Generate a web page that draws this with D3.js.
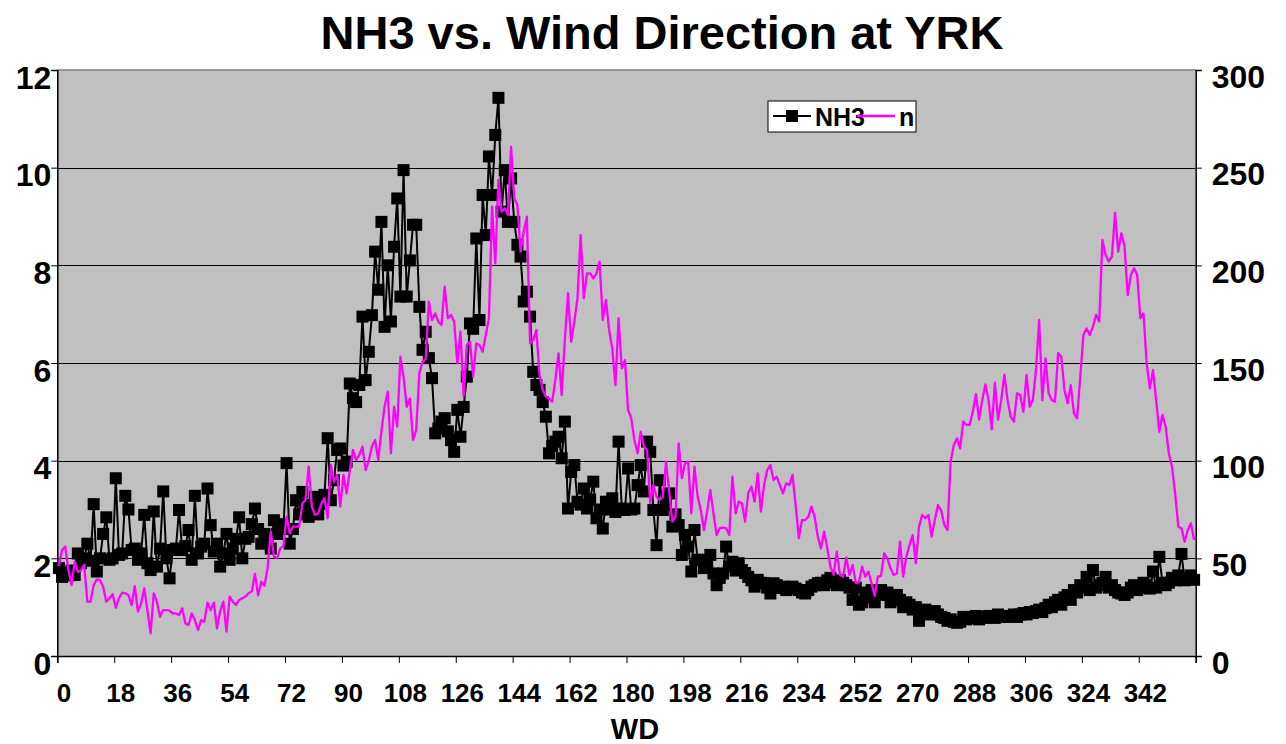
<!DOCTYPE html>
<html>
<head>
<meta charset="utf-8">
<script src="https://cdn.jsdelivr.net/npm/d3@7"></script>
<style>
    body { margin: 0; background: #fff; }
    text { font-family: "Liberation Sans", Arial, sans-serif; font-weight: bold; fill: #000; }
</style>
</head>
<body>
<svg id="chart"></svg>
<script>
// wind direction categories, one per degree
const windDirs = d3.range(360);
const xTickLabels = [0, 18, 36, 54, 72, 90, 108, 126, 144, 162, 180, 198, 216, 234, 252, 270, 288, 306, 324, 342];
const leftTicks = [0, 2, 4, 6, 8, 10, 12];
const rightTicks = [0, 50, 100, 150, 200, 250, 300];

const nh3 = [
    1.8, 1.62, 1.7, 1.65, 1.75, 1.66, 2.1, 1.9, 2.0, 2.3,
    1.95, 3.11, 1.73, 2.0, 2.5, 2.84, 1.97, 2.0, 3.64, 2.07,
    2.1, 3.28, 3.0, 2.17, 2.2, 1.97, 2.1, 2.89, 1.9, 1.76,
    2.96, 1.83, 2.2, 3.37, 2.0, 1.59, 2.17, 2.2, 2.99, 2.17,
    2.25, 2.58, 1.97, 3.28, 2.1, 2.24, 2.3, 3.43, 2.68, 2.14,
    2.3, 1.83, 2.1, 2.5, 1.97, 2.2, 2.4, 2.84, 2.0, 2.4,
    2.44, 2.7, 3.02, 2.6, 2.3, 2.5, 2.45, 2.2, 2.78, 2.5,
    2.7, 2.6, 3.95, 2.3, 2.6, 3.19, 2.9, 3.36, 3.1, 2.85,
    3.0, 3.26, 2.9, 3.12, 3.3, 4.46, 3.19, 3.6, 4.22, 4.25,
    3.9, 3.98, 5.58, 5.28, 5.2, 5.55, 6.95, 5.65, 6.23, 6.98,
    8.28, 7.5, 8.89, 6.74, 8.0, 6.85, 8.38, 9.37, 7.36, 9.95,
    7.36, 8.1, 8.83, 8.83, 7.15, 6.27, 6.64, 6.1, 5.69, 4.56,
    4.66, 4.8, 4.87, 4.6, 4.42, 4.18, 5.04, 4.49, 5.1, 5.72,
    6.81, 6.7, 8.55, 6.88, 9.44, 8.62, 10.23, 9.44, 10.67, 11.43,
    9.1, 9.95, 8.89, 9.78, 8.89, 8.42, 8.18, 7.26, 7.46, 6.95,
    5.82, 5.55, 5.45, 5.2, 4.9, 4.15, 4.3, 4.39, 4.49, 4.05,
    4.8, 3.02, 3.77, 3.91, 3.16, 3.1, 3.43, 3.02, 3.2, 3.57,
    2.82, 3.0, 2.61, 3.16, 3.0, 3.23, 2.95, 4.39, 3.02, 2.99,
    3.84, 3.0, 3.02, 3.5, 3.91, 3.37, 4.39, 4.18, 2.99, 2.27,
    3.6, 2.99, 3.1, 3.33, 2.65, 2.9, 2.68, 2.07, 2.48, 2.24,
    1.73, 2.58, 1.97, 1.97, 1.8, 1.83, 2.07, 1.69, 1.45, 1.6,
    1.69, 2.24, 1.83, 1.93, 1.75, 1.9, 1.76, 1.7, 1.62, 1.55,
    1.42, 1.56, 1.5, 1.49, 1.4, 1.28, 1.49, 1.45, 1.39, 1.42,
    1.35, 1.4, 1.42, 1.38, 1.35, 1.3, 1.28, 1.35, 1.42, 1.45,
    1.49, 1.5, 1.45, 1.55, 1.6, 1.5, 1.45, 1.55, 1.5, 1.45,
    1.4, 1.15, 1.4, 1.05, 1.1, 1.3, 1.2, 1.35, 1.1, 1.3,
    1.35, 1.25, 1.3, 1.1, 1.2, 1.25, 1.15, 1.0, 1.1, 1.05,
    0.95, 1.0, 0.72, 0.9, 0.95, 0.85, 0.9, 0.92, 0.85, 0.8,
    0.78, 0.72, 0.75, 0.7, 0.68, 0.7, 0.8, 0.75, 0.8, 0.78,
    0.82, 0.75, 0.8, 0.78, 0.82, 0.8, 0.78, 0.85, 0.8, 0.82,
    0.8, 0.82, 0.85, 0.8, 0.85, 0.88, 0.85, 0.9, 0.88, 0.92,
    0.95, 0.9, 0.98, 1.05, 1.0, 1.1, 1.15, 1.05, 1.2, 1.25,
    1.15, 1.35, 1.3, 1.45, 1.4, 1.62, 1.35, 1.76, 1.4, 1.45,
    1.5, 1.62, 1.4, 1.45, 1.35, 1.3, 1.28, 1.25, 1.3, 1.4,
    1.45, 1.35, 1.4, 1.5, 1.45, 1.38, 1.73, 1.4, 2.03, 1.5,
    1.45, 1.5, 1.6, 1.55, 1.65, 2.09, 1.55, 1.6, 1.65, 1.56
];

const nCount = [
    46, 54.3, 56, 44, 36.3, 48.3, 43, 44, 46.6, 27.8,
    27.8, 36.3, 39.2, 38.9, 35.5, 27.8, 29.5, 31.7, 24.7, 29.5,
    32.4, 32.1, 31.2, 26.1, 35.8, 22.7, 27, 34.6, 23.5, 11.6,
    32.1, 27.8, 20.1, 23.5, 23.5, 23.2, 21.8, 21.8, 21, 24.4,
    16.7, 15.9, 21.8, 18.4, 13.3, 18.4, 17.6, 27.3, 23.5, 27.3,
    14.2, 22.7, 27.8, 12.5, 30.4, 27.8, 26.1, 28.7, 29.5, 30.4,
    32.1, 33, 42, 31, 38, 36, 44.9, 63.7, 50.9, 50,
    55.1, 56, 71.3, 62.8, 66.2, 66.2, 66.2, 78, 80, 97,
    76.5, 72.2, 73, 78, 80.7, 70.5, 97.8, 89.3, 92.7, 76.5,
    92.7, 83.3, 95, 105.5, 100.3, 103, 107.2, 95.2, 100, 107.2,
    110.6, 100.3, 115, 127.6, 135.3, 103.8, 127.6, 117.4, 153.2, 143,
    127.6, 131.9, 110.6, 115.7, 144.7, 150.7, 152, 181.4, 172, 175.4,
    171.2, 169.5, 189.1, 172.9, 174.6, 171.2, 149.8, 166, 132.8, 159.2,
    160.9, 143, 160, 159.2, 155.8, 164.3, 172.9, 230, 201, 243.7,
    227.5, 229.2, 225.8, 260.8, 234.3, 230.9, 207, 217.2, 224.9, 160,
    161.8, 166.9, 143.9, 136.2, 132.8, 131.9, 130.2, 141.3, 154.9, 133.6,
    161.8, 185.7, 160.9, 171.2, 183.1, 215.5, 183.1, 195.9, 195.9, 193.3,
    195.9, 201.9, 172, 182.3, 166.9, 157.5, 138.7, 172.9, 147.3, 151.5,
    126, 121.7, 110.6, 103.8, 114.8, 107.2, 105.5, 78.2, 87.5, 81.6,
    79.9, 81.6, 99.5, 84.1, 68.8, 71.3, 108.9, 91, 98.6, 99.5,
    73, 96.9, 81.6, 74.7, 64.5, 73.9, 85, 73, 61.9, 65.4,
    65.7, 65.4, 61.9, 91.8, 73, 79, 78.2, 68.8, 83.3, 86.7,
    79, 93.5, 73.9, 87.5, 95.2, 97.8, 90.1, 91.8, 87.5, 83.3,
    88.4, 87.5, 92.7, 77.3, 60.2, 69.6, 69.6, 71.3, 76.5, 71.3,
    61.1, 55.1, 63.7, 55.1, 45.7, 41.5, 53.4, 41.5, 40.6, 50.5,
    41.5, 46.6, 37.5, 37.7, 45.7, 40.6, 43.2, 37.2, 30.7, 40.6,
    41, 52.6, 50, 44.9, 41.5, 42.3, 58.5, 40.6, 50.9, 56.8,
    61.9, 47.4, 66.2, 72.2, 70.5, 72.2, 61.1, 69.6, 77.3, 74.7,
    67.1, 64.5, 99.5, 108, 111.4, 106.3, 120, 118.3, 118.3, 125,
    134, 121, 131, 139, 131, 116, 140, 121, 131, 144,
    131, 122.5, 120, 134.5, 133.6, 125.1, 143.9, 127.6, 131, 146.4,
    172, 131, 152.4, 134.5, 131, 130.2, 155, 153.2, 136.2, 129.4,
    138.7, 124.2, 121.7, 143, 164.3, 167.7, 164.3, 168.6, 174.6, 171.2,
    213, 205.3, 201.9, 204.4, 226.9, 207, 216.4, 209.6, 184.8, 195,
    198.5, 195, 172.9, 175.4, 149.8, 137, 146.4, 131, 114.8, 123.4,
    117.4, 103.8, 96.9, 83.3, 66.2, 65.4, 58.5, 64.5, 67.9, 59.4
];

const width = 1286, height = 744;
const plot = { left: 57.3, right: 1195.7, top: 70, bottom: 656 };

const svg = d3.select("#chart").attr("width", width).attr("height", height);

const x = d3.scaleLinear().domain([0, windDirs.length]).range([plot.left, plot.right]);
const yLeft = d3.scaleLinear().domain([0, 12]).range([plot.bottom, plot.top]);
const yRight = d3.scaleLinear().domain([0, 300]).range([plot.bottom, plot.top]);

// plot area
svg.append("rect")
    .attr("x", plot.left).attr("y", plot.top)
    .attr("width", plot.right - plot.left).attr("height", plot.bottom - plot.top)
    .attr("fill", "#c0c0c0");

svg.append("line")
    .attr("x1", plot.left).attr("x2", plot.right)
    .attr("y1", plot.top).attr("y2", plot.top)
    .attr("stroke", "#808080").attr("stroke-width", 1.5);

// gridlines
svg.append("g").selectAll("line")
    .data(leftTicks.filter(d => d > 0 && d < 12))
    .join("line")
    .attr("x1", plot.left).attr("x2", plot.right)
    .attr("y1", d => Math.round(yLeft(d)) + 0.5).attr("y2", d => Math.round(yLeft(d)) + 0.5)
    .attr("stroke", "#000").attr("stroke-width", 1);

// left axis
const leftAxis = svg.append("g")
    .attr("transform", `translate(${plot.left}, 0)`)
    .call(d3.axisLeft(yLeft).tickValues(leftTicks).tickSize(6).tickPadding(0));
leftAxis.select(".domain").attr("stroke-width", 1.5);
leftAxis.selectAll("text").attr("font-size", 32).attr("dy", "0.35em").attr("y", 7);

// right axis
const rightAxis = svg.append("g")
    .attr("transform", `translate(${plot.right}, 0)`)
    .call(d3.axisRight(yRight).tickValues(rightTicks).tickSize(6).tickPadding(10));
rightAxis.select(".domain").attr("stroke-width", 1.5);
rightAxis.selectAll("text").attr("font-size", 32).attr("dy", "0.35em").attr("y", 6);

// x axis: ticks every 18 categories
const xAxis = svg.append("g")
    .attr("transform", `translate(0, ${plot.bottom})`)
    .call(d3.axisBottom(x).tickValues(d3.range(0, 361, 18)).tickSize(7).tickFormat(""));
xAxis.select(".domain").attr("stroke-width", 1.5);

svg.append("g").selectAll("text")
    .data(xTickLabels)
    .join("text")
    .attr("x", d => x(d + 0.5) + 5)
    .attr("y", 702)
    .attr("text-anchor", "middle")
    .attr("font-size", 26)
    .text(d => d);

// NH3 series
const lineNH3 = d3.line()
    .x((d, i) => x(windDirs[i] + 0.5))
    .y(d => yLeft(d));

svg.append("path")
    .datum(nh3)
    .attr("d", lineNH3)
    .attr("fill", "none")
    .attr("stroke", "#000")
    .attr("stroke-width", 2);

const markerSize = 12;
svg.append("g").selectAll("rect")
    .data(nh3)
    .join("rect")
    .attr("x", (d, i) => x(windDirs[i] + 0.5) - markerSize / 2)
    .attr("y", d => yLeft(d) - markerSize / 2)
    .attr("width", markerSize)
    .attr("height", markerSize)
    .attr("fill", "#000");

// n series on the secondary axis, drawn on top
const lineN = d3.line()
    .x((d, i) => x(windDirs[i] + 0.5))
    .y(d => yRight(d));

svg.append("path")
    .datum(nCount)
    .attr("d", lineN)
    .attr("fill", "none")
    .attr("stroke", "#ff00ff")
    .attr("stroke-width", 2.3)
    .attr("stroke-linejoin", "round");

// legend
const legend = svg.append("g").attr("transform", "translate(768, 101)");
legend.append("rect")
    .attr("width", 148).attr("height", 31)
    .attr("fill", "#fff").attr("stroke", "#000").attr("stroke-width", 1);
legend.append("line")
    .attr("x1", 5).attr("x2", 43).attr("y1", 15).attr("y2", 15)
    .attr("stroke", "#000").attr("stroke-width", 2);
legend.append("rect")
    .attr("x", 18).attr("y", 9).attr("width", markerSize).attr("height", markerSize)
    .attr("fill", "#000");
legend.append("text")
    .attr("x", 47).attr("y", 25)
    .attr("font-size", 25)
    .text("NH3");
legend.append("line")
    .attr("x1", 89).attr("x2", 127).attr("y1", 15).attr("y2", 15)
    .attr("stroke", "#ff00ff").attr("stroke-width", 2.3);
legend.append("text")
    .attr("x", 131).attr("y", 25)
    .attr("font-size", 25)
    .text("n");

// titles
svg.append("text")
    .attr("x", 662).attr("y", 49)
    .attr("text-anchor", "middle")
    .attr("font-size", 47)
    .text("NH3 vs. Wind Direction at YRK");

svg.append("text")
    .attr("x", 635).attr("y", 739)
    .attr("text-anchor", "middle")
    .attr("font-size", 29)
    .text("WD");
</script>
</body>
</html>
